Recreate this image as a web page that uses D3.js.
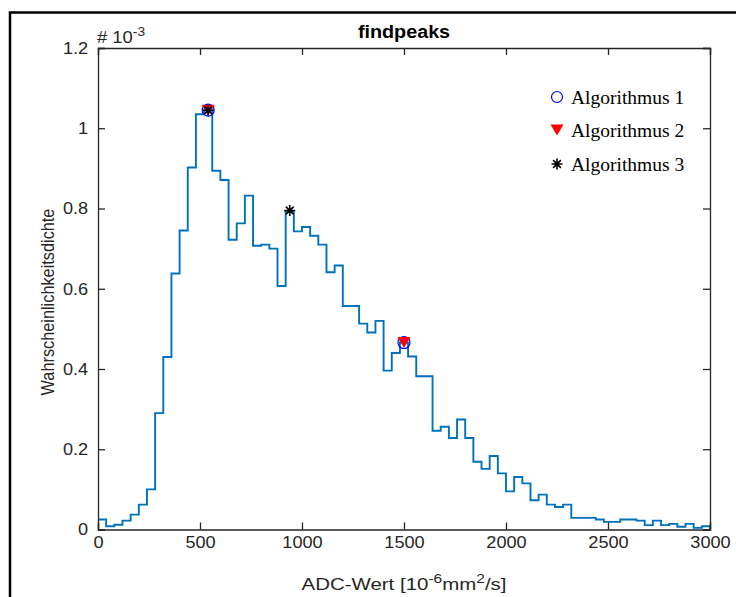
<!DOCTYPE html>
<html>
<head>
<meta charset="utf-8">
<script src="https://cdn.jsdelivr.net/npm/d3@7"></script>
<style>
  html, body { margin: 0; padding: 0; background: #fff; }
  svg { display: block; }
</style>
</head>
<body>
<svg id="chart" width="736" height="597"></svg>
<script>
// ---------------- data ----------------
const binEdges = [0,40,80,120,160,200,240,280,320,360,400,440,480,520,560,600,640,680,720,760,
  800,840,880,920,960,1000,1040,1080,1120,1160,1200,1240,1280,1320,1360,1400,1440,1480,1520,1560,
  1600,1640,1680,1720,1760,1800,1840,1880,1920,1960,2000,2040,2080,2120,2160,2200,2240,2280,2320,2360,
  2400,2440,2480,2520,2560,2600,2640,2680,2720,2760,2800,2840,2880,2920,2960,3000];
// probability density (x 10^-3) per bin
const density = [0.025,0.008,0.012,0.022,0.037,0.062,0.100,0.290,0.430,0.638,
  0.745,0.902,1.035,1.045,0.894,0.871,0.722,0.763,0.832,0.707,
  0.710,0.700,0.607,0.793,0.743,0.754,0.732,0.710,0.641,0.658,
  0.557,0.557,0.513,0.491,0.520,0.396,0.440,0.466,0.431,0.382,
  0.382,0.246,0.256,0.228,0.274,0.228,0.169,0.151,0.183,0.140,
  0.095,0.131,0.115,0.073,0.087,0.062,0.056,0.062,0.029,0.029,
  0.029,0.025,0.019,0.019,0.025,0.025,0.022,0.011,0.022,0.011,
  0.014,0.007,0.014,0.004,0.008];

const alg1X = [540, 1500], alg1Y = [1.045, 0.466];
const alg2X = [540, 1500], alg2Y = [1.045, 0.466];
const alg3X = [540, 940],  alg3Y = [1.045, 0.795];

const xTicks = [0, 500, 1000, 1500, 2000, 2500, 3000];
const yTicks = [0, 0.2, 0.4, 0.6, 0.8, 1, 1.2];
const legendLabels = ["Algorithmus 1", "Algorithmus 2", "Algorithmus 3"];

// ---------------- layout ----------------
const SANS = "'Liberation Sans', Arial, Helvetica, sans-serif";
const SERIF = "'Liberation Serif', 'Times New Roman', serif";
const svg = d3.select("#chart");
const L = 98, R = 710, T = 48, B = 529.5;
const x = d3.scaleLinear().domain([0, 3000]).range([L, R]);
const y = d3.scaleLinear().domain([0, 1.2]).range([B, T]);
const axisColor = "#262626";
const lineColor = "#0072BD";

// figure frame
svg.append("rect").attr("x", 10).attr("y", 12.5).attr("width", 760).attr("height", 620)
  .attr("fill", "none").attr("stroke", "#000").attr("stroke-width", 2.5);

// plot background
svg.append("rect").attr("x", L).attr("y", T).attr("width", R - L).attr("height", B - T).attr("fill", "#fff");

// clip
svg.append("clipPath").attr("id", "clip").append("rect")
  .attr("x", L).attr("y", T - 20).attr("width", R - L).attr("height", B - T + 20);

// histogram stairs
const pts = [];
density.forEach((v, i) => { pts.push([binEdges[i], v]); pts.push([binEdges[i + 1], v]); });
pts.unshift([binEdges[0], 0]);
pts.push([binEdges[binEdges.length - 1], 0]);
svg.append("path")
  .attr("clip-path", "url(#clip)")
  .attr("d", d3.line().x(d => x(d[0])).y(d => y(d[1]))(pts))
  .attr("fill", "none").attr("stroke", lineColor).attr("stroke-width", 1.9)
  .attr("stroke-linejoin", "miter");

// axes
const tickLen = 7;
const axB = svg.append("g").attr("transform", `translate(0,${B})`)
  .call(d3.axisBottom(x).tickValues(xTicks).tickSize(-tickLen).tickPadding(7).tickFormat(d3.format("d")));
const axT = svg.append("g").attr("transform", `translate(0,${T})`)
  .call(d3.axisTop(x).tickValues(xTicks).tickSize(-tickLen).tickFormat(""));
const axL = svg.append("g").attr("transform", `translate(${L},0)`)
  .call(d3.axisLeft(y).tickValues(yTicks).tickSize(-tickLen).tickPadding(9).tickFormat(d => d3.format("~g")(d)));
const axR = svg.append("g").attr("transform", `translate(${R},0)`)
  .call(d3.axisRight(y).tickValues(yTicks).tickSize(-tickLen).tickFormat(""));
[axB, axT, axL, axR].forEach(g => {
  g.attr("font-family", null).attr("font-size", null);
  g.select(".domain").attr("stroke", axisColor).attr("stroke-width", 1.3);
  g.selectAll(".tick line").attr("stroke", axisColor).attr("stroke-width", 1.3);
  g.selectAll(".tick text").attr("fill", axisColor)
    .style("font-family", SANS).style("font-size", "16.5px")
    .attr("transform", "scale(1.1,1)");
});
axB.selectAll(".tick text").attr("dy", "0.71em");

// markers
function trianglePath(cx, cy, w, h) {
  return `M${cx - w / 2},${cy - h / 2}L${cx + w / 2},${cy - h / 2}L${cx},${cy + h / 2}Z`;
}
function asterisk(g, cx, cy, r) {
  const d = [];
  for (let k = 0; k < 4; k++) {
    const a = k * Math.PI / 4;
    d.push(`M${cx - r * Math.cos(a)},${cy - r * Math.sin(a)}L${cx + r * Math.cos(a)},${cy + r * Math.sin(a)}`);
  }
  g.append("path").attr("d", d.join("")).attr("stroke", "#000").attr("stroke-width", 1.6).attr("fill", "none");
}
const mk = svg.append("g");
alg1X.forEach((v, i) => mk.append("circle").attr("cx", x(v)).attr("cy", y(alg1Y[i])).attr("r", 6)
  .attr("fill", "none").attr("stroke", "#0000ff").attr("stroke-width", 1.2));
alg2X.forEach((v, i) => mk.append("path").attr("d", trianglePath(x(v), y(alg2Y[i]), 13, 11)).attr("fill", "#ff0000"));
alg3X.forEach((v, i) => asterisk(mk, x(v), y(alg3Y[i]), 5.5));

// legend
const legX = 557, legY = [97, 130, 164];
const lg = svg.append("g");
lg.append("circle").attr("cx", legX).attr("cy", legY[0]).attr("r", 5.5)
  .attr("fill", "none").attr("stroke", "#0000ff").attr("stroke-width", 1.2);
lg.append("path").attr("d", trianglePath(legX, legY[1], 13, 11)).attr("fill", "#ff0000");
asterisk(lg, legX, legY[2], 5.5);
legendLabels.forEach((t, i) => lg.append("text").attr("x", legX + 14).attr("y", legY[i]).attr("dy", "0.35em")
  .style("font-family", SERIF).style("font-size", "19.5px").attr("fill", "#000").text(t));

// title
svg.append("text").attr("transform", `translate(${(L + R) / 2},38) scale(1.13,1)`).attr("text-anchor", "middle")
  .style("font-family", SANS).style("font-size", "17.5px").attr("font-weight", "bold").attr("fill", "#000").text("findpeaks");

// exponent label
const ex = svg.append("text").attr("transform", `translate(${L - 1},43) scale(1.15,1)`)
  .style("font-family", SANS).style("font-size", "16px").attr("fill", axisColor);
ex.append("tspan").text("# 10");
ex.append("tspan").attr("dy", -7).style("font-size", "12px").text("-3");

// x label
const xl = svg.append("text").attr("transform", `translate(${(L + R) / 2},590) scale(1.24,1)`).attr("text-anchor", "middle")
  .style("font-family", SANS).style("font-size", "16.5px").attr("fill", axisColor);
xl.append("tspan").text("ADC-Wert [10");
xl.append("tspan").attr("dy", -7).style("font-size", "12.5px").text("-6");
xl.append("tspan").attr("dy", 7).text("mm");
xl.append("tspan").attr("dy", -7).style("font-size", "12.5px").text("2");
xl.append("tspan").attr("dy", 7).text("/s]");

// y label
svg.append("text").attr("transform", `translate(53.5,302) rotate(-90) scale(1,1.12)`).attr("text-anchor", "middle")
  .style("font-family", SANS).style("font-size", "16.3px").attr("fill", axisColor).text("Wahrscheinlichkeitsdichte");
</script>
</body>
</html>
